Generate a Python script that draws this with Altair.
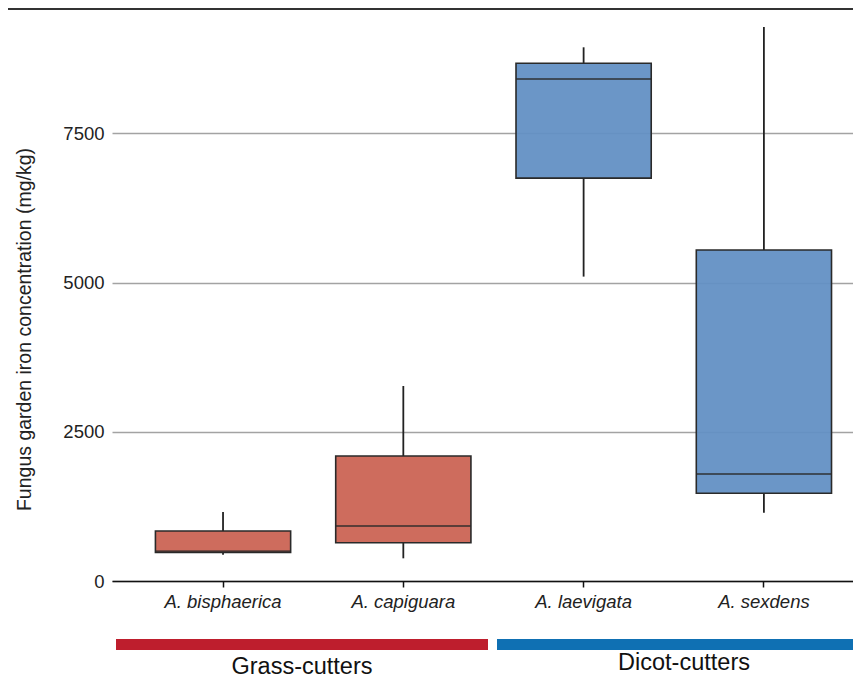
import altair as alt
import pandas as pd

species = ["A. bisphaerica", "A. capiguara", "A. laevigata", "A. sexdens"]
group = ["Grass-cutters", "Grass-cutters", "Dicot-cutters", "Dicot-cutters"]
whisker_low = [440, 380, 5100, 1145]
q1 = [480, 642, 6750, 1470]
median = [500, 921, 8410, 1793]
q3 = [838, 2094, 8674, 5546]
whisker_high = [1156, 3267, 8942, 9283]

groups = ["Grass-cutters", "Dicot-cutters"]
box_colors = ["#CB6454", "#6390C4"]
bar_colors = ["#BE1E2D", "#0F70B3"]
y_ticks = [0, 2500, 5000, 7500]

df = pd.DataFrame({
    "species": species, "group": group, "low": whisker_low, "q1": q1,
    "median": median, "q3": q3, "high": whisker_high,
})

FONT = "Liberation Sans"
W, H = 741, 567

xscale = alt.Scale(domain=species, paddingInner=0.25, paddingOuter=0.18, align=0.669)
yscale = alt.Scale(domain=[0, 9500], nice=False)

x_enc = alt.X("species:N", scale=xscale, sort=species, title=None,
              axis=alt.Axis(labelAngle=0, labelFont=FONT, labelFontSize=18.5,
                            labelFontStyle="italic", labelColor="#222",
                            domainColor="#111", domainWidth=1.5,
                            tickColor="#111", tickSize=6, tickWidth=1.5,
                            labelPadding=5, grid=False))
y_axis = alt.Axis(values=y_ticks, format="d", grid=True, gridColor="#A3A3A3", gridWidth=1.4,
                  domain=False, ticks=False, labelFont=FONT, labelFontSize=18.5,
                  labelColor="#222", labelPadding=8,
                  title="Fungus garden iron concentration (mg/kg)",
                  titleFont=FONT, titleFontSize=19.5, titleFontWeight="normal",
                  titleColor="#222", titleX=-88, titleY=315, titleBaseline="middle")

color = alt.Color("group:N", scale=alt.Scale(domain=groups, range=box_colors), legend=None)

base = alt.Chart(df)

whisk_low = base.mark_rule(color="#222", strokeWidth=1.8).encode(
    x=x_enc, y=alt.Y("low:Q", scale=yscale, axis=y_axis), y2="q1:Q")
whisk_high = base.mark_rule(color="#222", strokeWidth=1.8).encode(
    x="species:N", y="q3:Q", y2="high:Q")
boxes = base.mark_bar(stroke="#2a2a2a", strokeWidth=1.6, fillOpacity=0.95).encode(
    x="species:N", y="q1:Q", y2="q3:Q", color=color)
med = base.mark_tick(color="#2a2a2a", thickness=2, size=135).encode(
    x="species:N", y="median:Q")

gdf = pd.DataFrame({"g": groups})
grass_bar = alt.Chart(gdf).transform_filter(alt.datum.g == groups[0]).mark_rect(
    color=bar_colors[0]).encode(
    x=alt.value(4), x2=alt.value(376), y=alt.value(625), y2=alt.value(636))
dicot_bar = alt.Chart(gdf).transform_filter(alt.datum.g == groups[1]).mark_rect(
    color=bar_colors[1]).encode(
    x=alt.value(385), x2=alt.value(741), y=alt.value(625), y2=alt.value(636))
grass_txt = alt.Chart(gdf).transform_filter(alt.datum.g == groups[0]).mark_text(
    font=FONT, fontSize=23.5, color="#111", baseline="middle", align="center").encode(
    text="g:N", x=alt.value(190), y=alt.value(653))
dicot_txt = alt.Chart(gdf).transform_filter(alt.datum.g == groups[1]).mark_text(
    font=FONT, fontSize=23.5, color="#111", baseline="middle", align="center").encode(
    text="g:N", x=alt.value(572), y=alt.value(649))
frame = alt.Chart(gdf).transform_filter(alt.datum.g == groups[0]).mark_rect(
    color="#333").encode(
    x=alt.value(-104), x2=alt.value(741), y=alt.value(-6), y2=alt.value(-4))

chart = alt.layer(whisk_low, whisk_high, boxes, med, grass_bar, dicot_bar,
                  grass_txt, dicot_txt, frame).properties(
    width=W, height=H, background="white",
    padding={"left": 0, "top": 0, "right": 0, "bottom": 0},
).configure_view(stroke=None, strokeWidth=0)

chart.save("out.html", embed_options={"renderer": "svg", "actions": False})
